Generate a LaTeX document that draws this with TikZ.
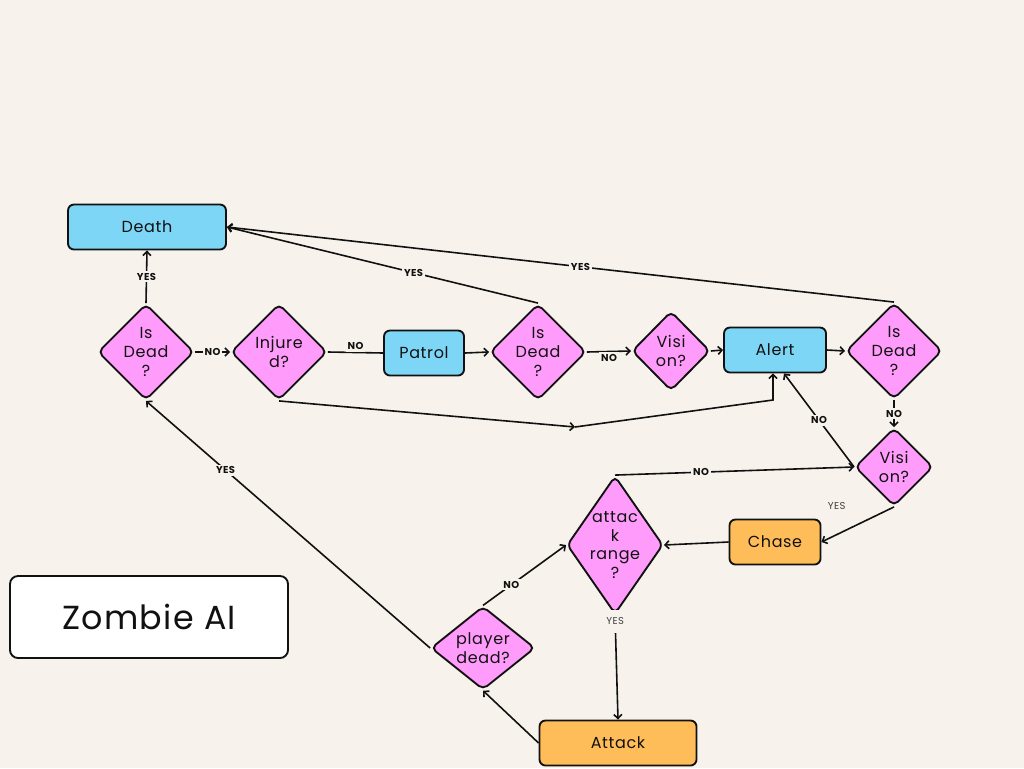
\documentclass[tikz,border=0pt]{standalone}
\usepackage{fontspec}
\setmainfont{Poppins}[LetterSpace=4]
\usetikzlibrary{shapes.geometric,arrows.meta,positioning}
\definecolor{bgpaper}{HTML}{F7F3EC}
\definecolor{stateblue}{HTML}{7ED6F7}
\definecolor{askpink}{HTML}{FF9BFB}
\definecolor{actorange}{HTML}{FFBD59}
\definecolor{inkline}{HTML}{111111}
\tikzset{>={Straight Barb[length=3pt,width=6pt]}}

\begin{document}
\begin{tikzpicture}[x=0.75pt,y=-0.75pt,
    state/.style={draw=inkline,line width=1.4pt,rounded corners=4.5pt,minimum height=33.75pt,
      text=inkline,font=\fontsize{12}{14}\selectfont},
    bluestate/.style={state,fill=stateblue},
    orangestate/.style={state,fill=actorange},
    decision/.style={diamond,draw=inkline,line width=1.4pt,fill=askpink,rounded corners=4pt,inner sep=0pt},
    asktext/.style={align=center,text=inkline,font=\fontsize{12}{14}\selectfont},
    flow/.style={line width=1.2pt,draw=inkline},
    tag/.style={fill=bgpaper,inner sep=1.5pt,text=inkline,font=\fontsize{7.5}{8}\bfseries\selectfont},
    softtag/.style={fill=bgpaper,inner sep=1.5pt,text=black!75,font=\fontsize{7.5}{8}\selectfont}]
    \path[use as bounding box,fill=bgpaper] (0,0) rectangle (1024,768);

    % states
    \node[bluestate,minimum width=118.5pt] (death) at (147,227) {Death};
    \node[bluestate,minimum width=60pt] (patrol) at (424,353) {Patrol};
    \node[bluestate,minimum width=76.5pt] (alert) at (775,350) {Alert};
    \node[orangestate,minimum width=68.25pt] (chase) at (775,542) {Chase};
    \node[orangestate,minimum width=117.75pt] (attack) at (618,743) {Attack};

    % questions
    \node[decision,minimum width=72pt,minimum height=72pt,label={[asktext]center:{Is\\Dead\\?}}] (dead1) at (146,352) {};
    \node[decision,minimum width=72pt,minimum height=72pt,label={[asktext]center:{Injure\\d?}}] (injured) at (279,352) {};
    \node[decision,minimum width=72pt,minimum height=72pt,label={[asktext]center:{Is\\Dead\\?}}] (dead2) at (538,352) {};
    \node[decision,minimum width=58.5pt,minimum height=59.5pt,label={[asktext]center:{Visi\\on?}}] (vision1) at (671,351) {};
    \node[decision,minimum width=72pt,minimum height=72pt,label={[asktext]center:{Is\\Dead\\?}}] (dead3) at (894,351) {};
    \node[decision,minimum width=58.5pt,minimum height=58.5pt,label={[asktext]center:{Visi\\on?}}] (vision2) at (894,467) {};
    \node[decision,minimum width=72pt,minimum height=103.5pt,label={[asktext]center:{attac\\k\\range\\?}}] (range) at (615,545) {};
    \node[decision,minimum width=78pt,minimum height=62.5pt,label={[asktext]center:{player\\dead?}}] (playerdead) at (483,648) {};

    \node[draw=inkline,line width=1.4pt,fill=white,rounded corners=6pt,minimum width=208.5pt,minimum height=61.5pt,
      text=inkline,font=\fontsize{25}{28}\selectfont] (title) at (149,617) {Zombie AI};

    % top row
    \draw[flow,->] (dead1.north) -- node[tag]{YES} (death.south);
    \draw[flow,->] (dead1.east) -- node[tag]{NO} (injured.west);
    \draw[flow] (injured.east) -- node[tag,above]{NO} (patrol.west);
    \draw[flow,->] (patrol.east) -- (dead2.west);
    \draw[flow,->] (dead2.north) -- node[tag,pos=0.4]{YES} (death.east);
    \draw[flow,->] (dead2.east) -- node[tag,below]{NO} (vision1.west);
    \draw[flow,->] (vision1.east) -- (alert.west);
    \draw[flow,->] (alert.east) -- (dead3.west);
    \draw[flow,->] (dead3.north) -- node[tag,pos=0.47]{YES} (death.east);

    % injured goes round to alert
    \coordinate (detourmid) at (575,427);
    \coordinate (detourup) at (773,400);
    \draw[flow,->] (injured.south) -- (detourmid);
    \draw[flow,->] (detourmid) -- (detourup) -- (alert.south -| detourup);

    % right side
    \draw[flow,->] (dead3.south) -- node[tag]{NO} (vision2.north);
    \draw[flow,->] (vision2.west) -- node[tag]{NO} ([xshift=6.75pt]alert.south);
    \draw[flow,->] (range.north) -- node[tag,pos=0.36]{NO} (vision2.west);
    \draw[flow,->] (vision2.south) -- node[softtag,xshift=-15.75pt,yshift=13.5pt]{YES} (chase.east);
    \draw[flow,->] (chase.west) -- (range.east);

    % bottom loop
    \draw[flow,->] (range.south) -- node[softtag,pos=0.06,inner ysep=6pt]{YES} (attack.north);
    \draw[flow,->] (attack.west) -- (playerdead.south);
    \draw[flow,->] (playerdead.north) -- node[tag,pos=0.34]{NO} (range.west);
    \draw[flow,->] (playerdead.west) -- node[tag,pos=0.72]{YES} (dead1.south);
\end{tikzpicture}
\end{document}
